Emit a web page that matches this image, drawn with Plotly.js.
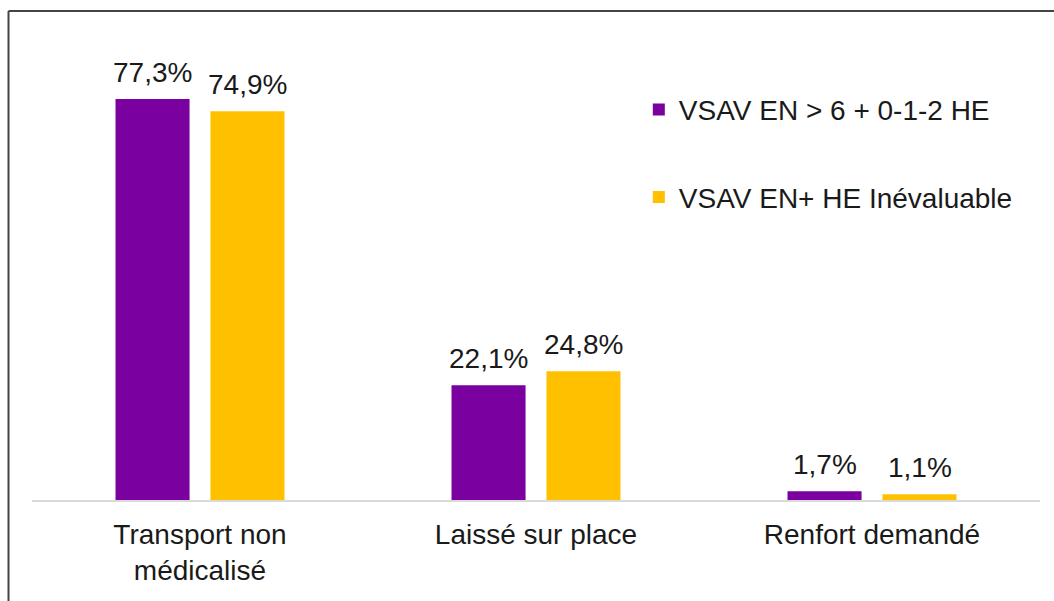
<!DOCTYPE html>
<html>
<head>
<meta charset="utf-8">
<script src="https://cdn.plot.ly/plotly-3.0.1.min.js"></script>
<style>
html,body{margin:0;padding:0;background:#fff;}
#chart{width:1054px;height:601px;}
</style>
</head>
<body>
<div id="chart"></div>
<script>
var categories = ["Transport non<br>médicalisé", "Laissé sur place", "Renfort demandé"];
var seriesNames = ["VSAV EN > 6 + 0-1-2 HE", "VSAV EN+ HE Inévaluable"];
var series1 = [77.3, 22.1, 1.7];
var series2 = [74.9, 24.8, 1.1];
var colors = ["#7B00A0", "#FFC000"];

var font = "Liberation Sans, Arial, sans-serif";
var fs = 28;

var traces = [
  {
    type: "bar", name: seriesNames[0], x: categories, y: series1,
    marker: {color: colors[0]},
    cliponaxis: false, legendgroup: "a", hoverinfo: "none"
  },
  {
    type: "bar", name: seriesNames[1], x: categories, y: series2,
    marker: {color: colors[1]},
    cliponaxis: false, legendgroup: "b", hoverinfo: "none"
  }
];

function fmt(v) { return v.toFixed(1).replace(".", ",") + "%"; }

var annotations = [];
var allSeries = [series1, series2];
var offsets = [-47.5, 47.5];
allSeries.forEach(function (s, si) {
  s.forEach(function (v, i) {
    annotations.push({
      x: categories[i], y: v, xref: "x", yref: "y",
      text: fmt(v), showarrow: false,
      xanchor: "center", yanchor: "bottom",
      xshift: offsets[si], yshift: 9,
      font: {size: fs, color: "#1a1a1a", family: font}
    });
  });
});

var layout = {
  width: 1054, height: 601,
  margin: {l: 32, r: 14, t: 33, b: 101, autoexpand: false},
  paper_bgcolor: "#ffffff", plot_bgcolor: "#ffffff",
  font: {family: font, size: fs, color: "#1a1a1a"},
  barmode: "group",
  bargap: 0.435,
  bargroupgap: 0.22,
  showlegend: true,
  legend: {
    xref: "paper", yref: "paper",
    x: 0.602, y: 0.889, xanchor: "left", yanchor: "top",
    font: {size: fs, color: "#1a1a1a", family: font},
    tracegroupgap: 48, traceorder: "grouped",
    bgcolor: "rgba(0,0,0,0)"
  },
  xaxis: {
    showline: true, linecolor: "#d9d9d9", linewidth: 2,
    showgrid: false, zeroline: false, tickangle: 0, automargin: false,
    ticks: "outside", ticklen: 8, tickcolor: "rgba(0,0,0,0)",
    tickfont: {size: fs, color: "#1a1a1a", family: font}
  },
  yaxis: {
    range: [0, 90], visible: false, showgrid: false, zeroline: false
  },
  annotations: annotations,
  shapes: [
    {type: "line", xref: "paper", yref: "paper", x0: -0.0233, x1: -0.0233, y0: -0.3, y1: 1.047,
     line: {color: "#444444", width: 2}},
    {type: "line", xref: "paper", yref: "paper", x0: -0.0233, x1: 1.05, y0: 1.047, y1: 1.047,
     line: {color: "#444444", width: 2}}
  ]
};

Plotly.newPlot("chart", traces, layout, {displayModeBar: false, staticPlot: true});
</script>
</body>
</html>
